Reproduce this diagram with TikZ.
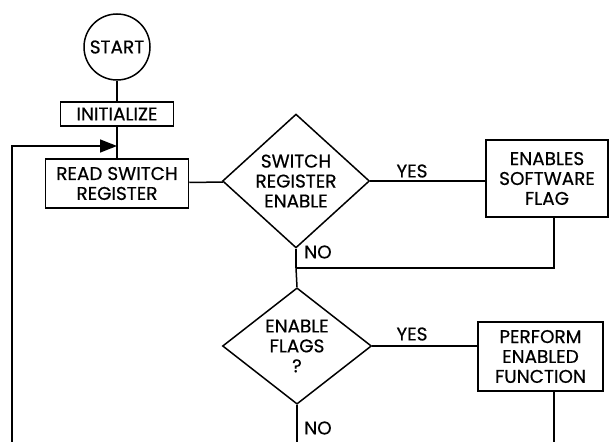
\documentclass[tikz,border=0pt]{standalone}
\usepackage{fontspec}
\setmainfont{Poppins}[FakeBold=0.5]
\usepackage{tikz}
\usetikzlibrary{arrows.meta}
\usetikzlibrary{shapes.geometric,positioning}

\begin{document}
\begin{tikzpicture}[x=1bp, y=-1bp, line width=1.5bp,
    every node/.style={font=\fontsize{18.5}{20}\selectfont, text=black},
    terminal/.style={circle, draw=black, minimum size=66bp, inner sep=0pt},
    process/.style={rectangle, draw=black, align=center, inner sep=0pt},
    decision/.style={diamond, draw=black, align=center, inner sep=0pt},
    answer/.style={inner sep=0pt}]
    \useasboundingbox (0,0) rectangle (609,442);

    \node (start) [terminal] at (117,47) {START};
    \node (init) [process, minimum width=113bp, minimum height=24bp] at (117,114) {INITIALIZE};
    \node (read) [process, minimum width=143bp, minimum height=49bp] at (117,183.5) {READ SWITCH\\REGISTER};

    \node (swenable) [decision, minimum width=147bp, minimum height=119bp] at (296,181) {SWITCH\\REGISTER\\ENABLE};
    \node (software) [process, minimum width=122bp, minimum height=77bp] at (547,178.5) {ENABLES\\SOFTWARE\\FLAG};

    \node (flags) [decision, minimum width=149bp, minimum height=115bp] at (297,346) {ENABLE\\FLAGS\\?};
    \node (perform) [process, minimum width=125bp, minimum height=69bp] at (540.5,356.5) {PERFORM\\ENABLED\\FUNCTION};

    \node (yes1) [answer] at (412,171) {YES};
    \node (no1) [answer] at (318,252) {NO};
    \node (yes2) [answer] at (412,334) {YES};
    \node (no2) [answer] at (318,428) {NO};

    \coordinate (merge) at (296,268);
    \coordinate (join) at (117,146);
    \coordinate (loop) at (12,442);
    \coordinate (bottom) at (0,442);

    \draw (start) -- (init);
    \draw (init) -- (read);
    \draw [-{Triangle[length=17bp,width=13bp]}] (loop) |- (join);
    \draw (read) -- (swenable);
    \draw (swenable.east) -- (swenable.east -| software.west);
    \draw (swenable.south) -- (merge);
    \draw ([xshift=7bp]software.south) |- (merge);
    \draw (merge) -- (flags.north);
    \draw (flags.east) -- (flags.east -| perform.west);
    \draw (flags.south) -- (flags.south |- bottom);
    \draw ([xshift=13.5bp]perform.south) -- ([xshift=13.5bp]perform.south |- bottom);
\end{tikzpicture}
\end{document}
